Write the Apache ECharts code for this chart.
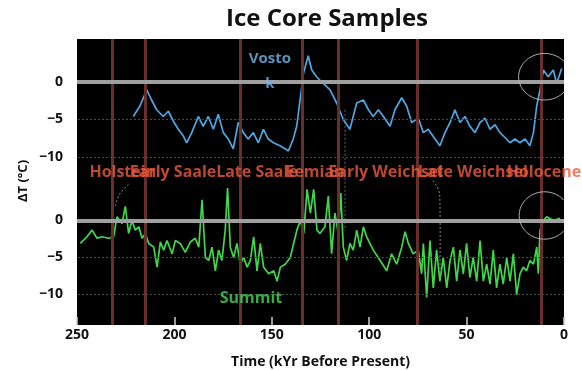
<!DOCTYPE html>
<html><head><meta charset="utf-8">
<script src="https://cdn.jsdelivr.net/npm/echarts@6/dist/echarts.min.js"></script>
<style>html,body{margin:0;padding:0;background:#fff}#c{width:582px;height:370px}</style>
</head><body><div id="c"></div>
<script>
// ---- data (ages in kyr before present, values in °C anomaly) ----
const vostokAge = [221.1,217.7,214.2,211.7,209.1,205.7,203.1,200.6,198,195.4,193.7,191.1,187.7,185.2,182.6,180,177.5,174.9,172.3,169.8,167.2,164.6,162.1,159.5,156.9,154.3,151.8,149.2,145.8,143.2,141.5,139,137.2,135.5,133.8,131.3,129.5,127,123.6,120.1,116.7,113.3,109.9,106.4,103,100.4,97.9,95.3,92.7,89.3,86.8,83.3,80.8,78.2,74.8,72.2,69.7,66.2,63.7,61.1,58.5,56,53.4,50.8,48.3,45.7,43.1,40.6,38,35.4,32.9,30.3,27.7,25.2,22.6,20,17.5,15.7,14,12.3,10.6,8.1,5.5,3.8,1.2];
const vostokValue = [-4.6,-3.2,-1.05,-2.4,-3.7,-4.6,-3.9,-5.2,-6.3,-7.2,-8.1,-6.75,-4.6,-5.9,-4.6,-6.3,-4.3,-6.75,-7.6,-8.9,-5.4,-6.75,-7.6,-6.75,-8.1,-6.3,-7.6,-8.1,-8.5,-8.9,-9.2,-7.6,-5.9,-2.4,1.1,3.5,1.6,0.7,-0.2,-1.05,-2.8,-5,-6.3,-2.8,-2.4,-3.7,-4.6,-3.7,-4.6,-5.9,-3.7,-2.1,-3.2,-5.4,-4.8,-6.75,-6.3,-7.6,-8.5,-6.75,-5.4,-3.7,-5.4,-4.6,-5.9,-6.75,-5.4,-4.8,-6.3,-5.7,-6.75,-7.4,-8.1,-7.6,-8.1,-7.6,-8.5,-6.75,-3.2,-1.05,1.6,0.7,1.6,-0.2,1.8];

const summitAge = [248.3,244.9,242.3,239.7,237.2,233.7,231.2,229.5,226.9,225.2,223.5,221.8,220.1,218.3,216.6,214.9,213.2,210.6,208.9,207.2,205.5,203.8,201.2,199.5,197,194.4,191.8,189.3,187.5,185.8,184.1,182.4,180.7,179,177.3,175.6,173.9,172.7,171.3,169.6,167.9,166.2,164.4,162.7,161,159.3,157.6,155.9,154.2,151.6,149,147.3,145.6,143.1,140.5,138.8,137.1,135.4,133.6,131.9,130.2,128.5,126.8,125.3,122.7,121,119.3,117.6,115.9,114.6,113.3,111.6,109.9,108.2,106.4,104.7,103,101.3,97.9,94.4,91,88.5,85.9,83.3,81.6,79.9,77.4,74.8,73.1,72.2,70.5,68.8,67.1,65.4,63.7,62,60.2,58.5,56.8,55.1,53.4,51.7,50,48.3,46.6,44.8,43.1,41.4,39.7,38,36.3,34.6,32.9,31.2,29.4,27.7,26,24.3,22.6,20.9,19.2,17.5,15.7,14,13.2,12.3,10.6,8.9,5.5,2];
const summitValue = [-3.1,-2.2,-1.3,-2.4,-2.2,-2.4,-2.2,0.5,-0.4,1.9,-1.75,0,-1.3,-0.85,-2.4,-1.75,-3.1,-3.6,-6.3,-2.9,-4,-2.7,-4.5,-2.7,-3.1,-4.3,-2.9,-2.4,-3.6,2.8,-5,-5.4,-3.6,-6.8,-4,-5.4,-1.3,4.4,-3.6,-5,-3.1,-5.9,-5,-6.3,-5.4,-2.2,-6.8,-3.1,-6.3,-7.2,-6.8,-8.2,-6.3,-5.9,-5,-3.1,-1.3,0,-1.75,4.2,1,4.2,-1.3,-1.75,-0.85,3.3,-4.5,1,-1.75,3.7,-3.6,-5.4,-3.1,-4,-1.3,-3.6,-0.85,-2.2,-4,-5.4,-6.8,-4.5,-5.9,-3.6,-1.5,-3.1,-4.5,-4,-7.2,-3.1,-10.4,-2.7,-9.1,-4,-8.2,-5,-9.1,-5.4,-3.6,-8.2,-4,-7.2,-3.1,-7.7,-5,-8.2,-2.7,-8.2,-5.9,-8.6,-4,-9.1,-5.9,-8.6,-5,-8.2,-4.5,-10,-7.2,-6.3,-6.8,-5.4,-5.9,-3.6,-7.2,-1.3,0,0.5,0,0.3];

const periodBoundaries = [232, 215, 166, 134.5, 116, 75.5, 11.5];
const periodNames = ['Holstein','Early Saale','Late Saale','Eemian','Early Weichsel','Late Weichsel','Holocene'];
const periodLabelAge = [226.5, 200.7, 157.6, 127.8, 91.5, 46.8, 10.3];
const periodLabelValue = -12;

const xTicks = [250, 200, 150, 100, 50, 0];
const yTickLabels = [0, -5, -10];

// ---- chart ----
const chart = echarts.init(document.getElementById('c'));
const FONT = '"Open Sans", "DejaVu Sans", sans-serif';
const pair = (a, b) => a.map((v, i) => [v, b[i]]);

function refLines() {
  const d = [];
  periodBoundaries.forEach(b => d.push({xAxis: b, lineStyle: {color: '#6a2e2a', width: 3, type: 'solid'}}));
  d.push({yAxis: -5, lineStyle: {color: '#4a4a4a', width: 1, type: [2, 2]}});
  d.push({yAxis: -10, lineStyle: {color: '#4a4a4a', width: 1, type: [2, 2]}});
  d.push({yAxis: 0, lineStyle: {color: '#a0a0a0', width: 4, type: 'solid'}});
  return {silent: true, symbol: ['none', 'none'], label: {show: false}, animation: false, data: d};
}

const yLabelFmt = v => {
  const r = Math.round(v * 100) / 100;
  return yTickLabels.includes(r) ? String(r).replace('-', '\u2212') : '';
};

const xAxisBase = {
  type: 'value', min: 0, max: 250, interval: 50, inverse: true,
  splitLine: {show: false}, axisLine: {show: false, onZero: false}
};
const yAxisBase = {
  type: 'value', splitNumber: 4, splitLine: {show: false},
  axisLine: {show: false, onZero: false}, axisTick: {show: false},
  axisLabel: {formatter: yLabelFmt, color: '#111', fontWeight: 'bold', fontSize: 14, fontFamily: FONT, margin: 14}
};

chart.setOption({
  animation: false,
  backgroundColor: '#fff',
  title: {text: 'Ice Core Samples', left: 322, top: 2, textAlign: 'center',
    textStyle: {fontFamily: FONT, fontWeight: 'bold', fontSize: 24, color: '#111'}},
  grid: [
    {left: 77, top: 39, width: 487, height: 140, show: true, backgroundColor: '#000', borderWidth: 0},
    {left: 77, top: 179, width: 487, height: 146, show: true, backgroundColor: '#000', borderWidth: 0}
  ],
  xAxis: [
    Object.assign({}, xAxisBase, {gridIndex: 0, axisLabel: {show: false}, axisTick: {show: false}}),
    Object.assign({}, xAxisBase, {gridIndex: 1, position: 'bottom',
      axisTick: {show: true, inside: true, length: 8, lineStyle: {color: '#ccc', width: 1.5}},
      axisLabel: {color: '#111', fontWeight: 'bold', fontSize: 14, fontFamily: FONT, margin: 3,
        formatter: v => xTicks.includes(v) ? String(v) : ''},
      name: 'Time (kYr Before Present)', nameLocation: 'middle', nameGap: 30,
      nameTextStyle: {color: '#111', fontWeight: 'bold', fontSize: 14, fontFamily: FONT}})
  ],
  yAxis: [
    Object.assign({}, yAxisBase, {gridIndex: 0, min: -12.93, max: 5.73}),
    Object.assign({}, yAxisBase, {gridIndex: 1, min: -14.12, max: 5.61})
  ],
  series: [
    {type: 'line', xAxisIndex: 0, yAxisIndex: 0, data: [], z: 1, markLine: refLines()},
    {type: 'line', xAxisIndex: 1, yAxisIndex: 1, data: [], z: 1, markLine: refLines()},
    {name: 'Vostok', type: 'line', xAxisIndex: 0, yAxisIndex: 0, z: 3,
      data: pair(vostokAge, vostokValue), showSymbol: false,
      lineStyle: {color: '#4ea7e2', width: 1.7}},
    {name: 'Summit', type: 'line', xAxisIndex: 1, yAxisIndex: 1, z: 3,
      data: pair(summitAge, summitValue), showSymbol: false,
      lineStyle: {color: '#3fd84a', width: 1.7}},
    {type: 'scatter', xAxisIndex: 0, yAxisIndex: 0, symbolSize: 0, z: 5, silent: true,
      data: periodNames.map((n, i) => ({name: n, value: [periodLabelAge[i], periodLabelValue]})),
      label: {show: true, position: 'inside', formatter: '{b}', color: '#ee5a3c',
        fontWeight: 'bold', fontSize: 16, fontFamily: FONT}},
    {type: 'scatter', xAxisIndex: 0, yAxisIndex: 0, symbolSize: 0, z: 5, silent: true,
      data: [{name: 'Vosto\nk', value: [151, 1.4]}],
      label: {show: true, position: 'inside', formatter: '{b}', color: '#6db8ea',
        fontWeight: 'bold', fontSize: 15, lineHeight: 25, fontFamily: FONT}},
    {type: 'scatter', xAxisIndex: 1, yAxisIndex: 1, symbolSize: 0, z: 5, silent: true,
      data: [{name: 'Summit', value: [160.7, -10.5]}],
      label: {show: true, position: 'inside', formatter: '{b}', color: '#44d654',
        fontWeight: 'bold', fontSize: 16, fontFamily: FONT}}
  ]
});

// ---- annotation rings around the Holocene, clipped to the plot ----
const px = (g, a, v) => chart.convertToPixel({xAxisIndex: g, yAxisIndex: g}, [a, v]);
function ring(g, age, val, ageR, valR) {
  const c = px(g, age, val);
  const e = px(g, age - ageR, val + valR);
  const rx = Math.abs(e[0] - c[0]), ry = Math.abs(e[1] - c[1]);
  const right = px(g, 0, 0)[0];
  const k = Math.max(-1, Math.min(1, (right - c[0]) / rx));
  const t0 = Math.acos(k);
  const pts = [];
  for (let i = 0; i <= 80; i++) {
    const t = t0 + (2 * Math.PI - 2 * t0) * i / 80;
    pts.push([c[0] + rx * Math.cos(t), c[1] + ry * Math.sin(t)]);
  }
  return {type: 'polyline', shape: {points: pts}, style: {stroke: '#b5b5b5', lineWidth: 1, fill: null}, z: 10, silent: true};
}
function connector(g, pts) {
  return {type: 'polyline', shape: {points: pts.map(p => px(g, p[0], p[1])), smooth: 0.4},
    style: {stroke: '#8a8a8a', lineWidth: 1, lineDash: [2, 2], fill: null}, z: 4, silent: true};
}

chart.setOption({
  graphic: [
    ring(0, 10, 0.7, 13.3, 3.1),
    ring(1, 10, 0.68, 13, 3.2),
    connector(1, [[223.5, 4.9], [228, 3.6], [230.3, 2.0]]),
    connector(1, [[67.3, 5.4], [64.5, 4.2], [63.7, 2.6], [63.7, -7.7]]),
    {type: 'line', shape: {x1: px(0, 112.4, 0)[0], y1: px(0, 112.4, -3.7)[1], x2: px(1, 112.4, 0)[0], y2: px(1, 112.4, -1.3)[1]},
      style: {stroke: '#6a6a6a', lineWidth: 1, lineDash: [2, 2]}, z: 2, silent: true},
    {type: 'text', x: 23, y: 181, rotation: Math.PI / 2, silent: true,
      style: {text: 'ΔT (°C)', fill: '#111', font: 'bold 13px ' + FONT, align: 'center', verticalAlign: 'middle'}}
  ]
});
</script></body></html>
